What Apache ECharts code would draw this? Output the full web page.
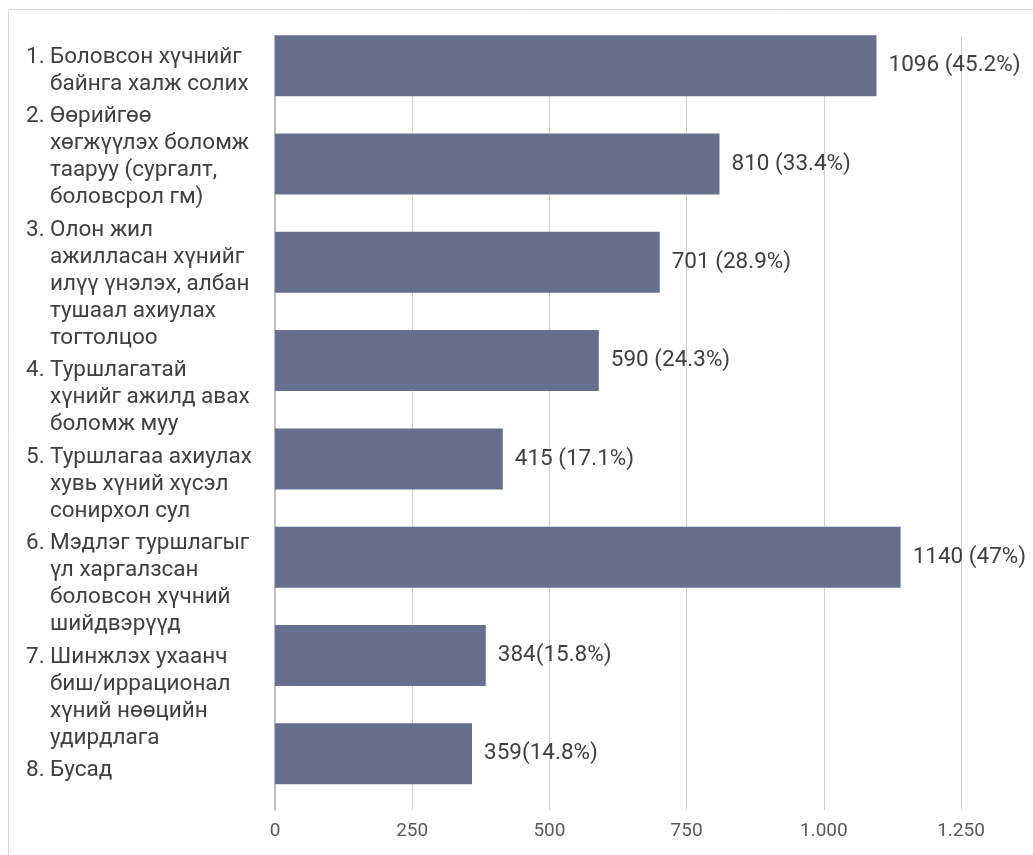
<!DOCTYPE html>
<html>
<head>
<meta charset="utf-8">
<script src="https://cdn.jsdelivr.net/npm/echarts@6/dist/echarts.min.js"></script>
<style>html,body{margin:0;padding:0;background:#fff}#c{width:1033px;height:855px}</style>
</head>
<body>
<div id="c"></div>
<script>
const numbers = ['1.', '2.', '3.', '4.', '5.', '6.', '7.', '8.'];
const categories = [
  'Боловсон хүчнийг\nбайнга халж солих',
  'Өөрийгөө\nхөгжүүлэх боломж\nтааруу (сургалт,\nболовсрол гм)',
  'Олон жил\nажилласан хүнийг\nилүү үнэлэх, албан\nтушаал ахиулах\nтогтолцоо',
  'Туршлагатай\nхүнийг ажилд авах\nболомж муу',
  'Туршлагаа ахиулах\nхувь хүний хүсэл\nсонирхол сул',
  'Мэдлэг туршлагыг\nүл харгалзсан\nболовсон хүчний\nшийдвэрүүд',
  'Шинжлэх ухаанч\nбиш/иррационал\nхүний нөөцийн\nудирдлага',
  'Бусад'
];
const values = [1096, 810, 701, 590, 415, 1140, 384, 359];
const valueLabels = ['1096 (45.2%)', '810 (33.4%)', '701 (28.9%)', '590 (24.3%)', '415 (17.1%)', '1140 (47%)', '384(15.8%)', '359(14.8%)'];
const tickMin = 0, tickMax = 1250, tickStep = 250;

const FONT = 'Roboto, "Noto Sans", sans-serif';
const TXT = '#404040';

// category text block (flowing paragraphs, hanging numbers)
const LH = 27, GAP = 5.5, FIRST = 57;
const graphics = [{
  type: 'rect', shape: {x: 8.5, y: 9.5, width: 1100, height: 900},
  style: {fill: 'none', stroke: '#d9d9d9', lineWidth: 1}, silent: true
}];
let lineCount = 0;
categories.forEach((c, i) => {
  const top = FIRST - LH / 2 + lineCount * LH + i * GAP;
  graphics.push({type: 'text', x: 26, y: top, style: {text: numbers[i], font: '22.5px ' + FONT, fill: TXT, lineHeight: LH, verticalAlign: 'top'}});
  graphics.push({type: 'text', x: 50, y: top, style: {text: c, font: '22.5px ' + FONT, fill: TXT, lineHeight: LH, verticalAlign: 'top'}});
  lineCount += c.split('\n').length;
});

const chart = echarts.init(document.getElementById('c'), null, {renderer: 'canvas'});
chart.setOption({
  animation: false,
  backgroundColor: '#fff',
  graphic: graphics,
  grid: [
    {left: 275, right: 72, top: 36, bottom: 45},
    {left: 275, right: 72, top: 16.5, bottom: 52}
  ],
  xAxis: [
    {
      gridIndex: 0, type: 'value', min: tickMin, max: tickMax, interval: tickStep,
      axisLine: {show: false}, axisTick: {show: false},
      splitLine: {show: true, lineStyle: {color: '#d0d0d0', width: 1}},
      axisLabel: {color: '#595959', fontSize: 19, fontFamily: FONT, margin: 12,
        formatter: v => v >= 1000 ? Math.floor(v / 1000) + '.' + String(v % 1000).padStart(3, '0') : String(v)}
    },
    {
      gridIndex: 1, type: 'value', min: tickMin, max: tickMax, interval: tickStep,
      show: false, splitLine: {show: false}
    }
  ],
  yAxis: [
    {
      gridIndex: 0, type: 'category', data: categories, inverse: true,
      axisLine: {show: true, lineStyle: {color: '#bfbfbf', width: 2}},
      axisTick: {show: false}, axisLabel: {show: false}, splitLine: {show: false}
    },
    {
      gridIndex: 1, type: 'category', data: categories, inverse: true, show: false
    }
  ],
  series: [{
    type: 'bar', xAxisIndex: 1, yAxisIndex: 1,
    data: values, barWidth: 61,
    itemStyle: {color: '#676f8f'},
    label: {
      show: true, position: 'right', distance: 12,
      color: TXT, fontSize: 22.5, fontFamily: FONT,
      formatter: p => valueLabels[p.dataIndex]
    }
  }]
});
</script>
</body>
</html>
